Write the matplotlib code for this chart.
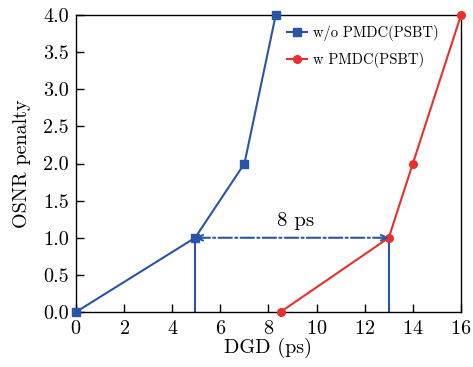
import matplotlib

matplotlib.use("Agg")
import matplotlib.pyplot as plt

# datos
dgd_sin = [0.0, 4.95, 7.0, 8.3]
pen_sin = [0.0, 1.0, 2.0, 4.0]
dgd_con = [8.5, 13.0, 14.0, 16.0]
pen_con = [0.0, 1.0, 2.0, 4.0]
x_ticks = [0, 2, 4, 6, 8, 10, 12, 14, 16]
y_ticks = [0.0, 0.5, 1.0, 1.5, 2.0, 2.5, 3.0, 3.5, 4.0]

AZUL = "#2a55a6"
ROJO = "#e8302c"

plt.rcParams["font.family"] = ["cmr10", "DejaVu Serif"]
plt.rcParams["axes.formatter.use_mathtext"] = True
plt.rcParams["mathtext.fontset"] = "cm"

fig = plt.figure(figsize=(4.73, 3.67), dpi=100)
ax = fig.add_axes([0.1607, 0.1499, 0.9746 - 0.1607, 0.959 - 0.1499])

ax.plot(dgd_sin, pen_sin, color=AZUL, lw=1.5, marker="s", ms=5.5,
        label="w/o PMDC(PSBT)", clip_on=False, zorder=3)
ax.plot(dgd_con, pen_con, color=ROJO, lw=1.5, marker="o", ms=5.5,
        label="w PMDC(PSBT)", clip_on=False, zorder=3)

# líneas verticales en DGD de 1 dB
ax.plot([dgd_sin[1], dgd_sin[1]], [0, pen_sin[1]], color=AZUL, lw=1.5)
ax.plot([dgd_con[1], dgd_con[1]], [0, pen_con[1]], color=AZUL, lw=1.5)

ax.annotate("", xy=(dgd_sin[1], 1.0), xytext=(dgd_con[1], 1.0),
            arrowprops=dict(arrowstyle="<->", color=AZUL, lw=1.5,
                            linestyle="-.", shrinkA=0, shrinkB=0))
ax.text((dgd_sin[1] + dgd_con[1]) / 2 + 0.15, 1.1, "8 ps", ha="center", va="bottom",
        fontsize=15)

ax.set_xlim(0, 16)
ax.set_ylim(0, 4)
ax.set_xticks(x_ticks)
ax.set_yticks(y_ticks)
ax.set_yticklabels([f"{v:.1f}" for v in y_ticks])
ax.tick_params(direction="in", labelsize=14.5, length=6, width=1)
ax.tick_params(axis="x", pad=6)
ax.tick_params(axis="y", pad=5)
ax.set_xlabel("DGD (ps)", fontsize=14.5, labelpad=0)
ax.set_ylabel("OSNR penalty", fontsize=14.5, labelpad=9)
for s in ax.spines.values():
    s.set_linewidth(1)

ax.legend(loc="upper left", frameon=False, fontsize=10.5, handlelength=1.37,
          handletextpad=0.4, borderaxespad=0, borderpad=0, labelspacing=0.75,
          bbox_to_anchor=(0.548, 0.966))

fig.savefig("out.png", dpi=100)
